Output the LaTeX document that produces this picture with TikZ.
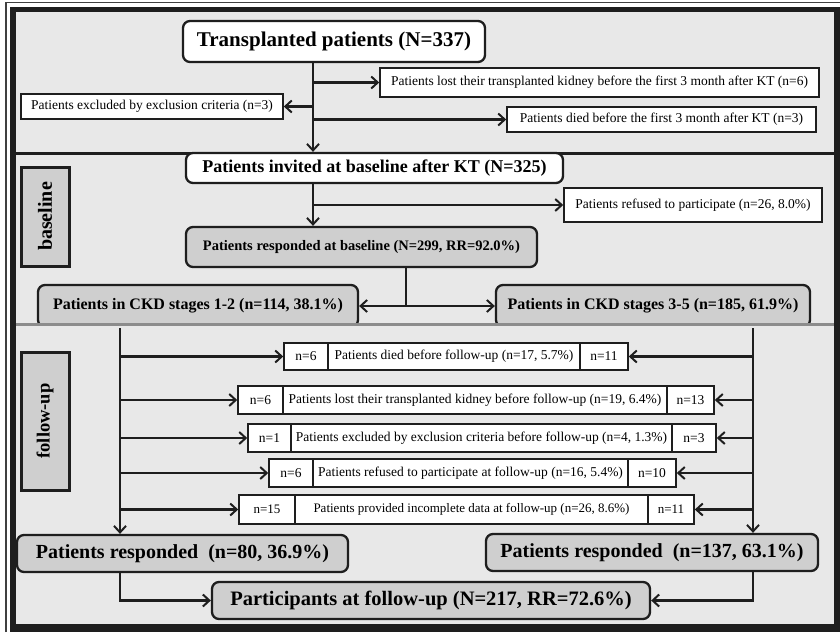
\documentclass[tikz,border=0pt]{standalone}
\usepackage{fontspec}
\setmainfont{Liberation Serif}
\usetikzlibrary{arrows.meta}
\definecolor{bgg}{HTML}{E8E8E8}
\definecolor{boxg}{HTML}{CFCFCF}
\definecolor{frm}{HTML}{1E1E1E}
\definecolor{divg}{HTML}{8C8C8C}
\tikzset{
  arr/.style={line width=2.1pt, draw=frm, -{Straight Barb[length=6.5pt,width=12pt,line width=2pt]}},
  ln/.style={line width=2.1pt, draw=frm},
  bigbox/.style={draw=frm, line width=2.3pt, rounded corners=7pt, inner sep=0pt, align=center},
  whitebox/.style={bigbox, fill=white},
  graybox/.style={bigbox, fill=boxg},
  smallbox/.style={draw=frm, line width=1.6pt, fill=white, inner sep=0pt, align=center, font=\fontsize{13.5}{15}\selectfont},
  rowbox/.style={draw=frm, line width=1.6pt, fill=white, inner sep=0pt, align=center, font=\fontsize{13.5}{15}\selectfont},
  labelbox/.style={draw=frm, line width=3pt, fill=boxg, inner sep=0pt, minimum width=48pt}
}
\begin{document}
\begin{tikzpicture}[x=1pt,y=-1pt]
\useasboundingbox (0,0) rectangle (840,632);
\fill[white] (0,0) rectangle (840,632);
\draw[line width=1.2pt, black!75] (6,632) -- (6,2.5) -- (840,2.5);
\fill[frm] (10,7) rectangle (840,632);
\fill[bgg] (16,12) rectangle (834,624);
\draw[line width=3pt, frm] (16,153) -- (834,153);

\coordinate (c1) at (313,0);
\coordinate (c2) at (406,0);
\coordinate (c3) at (120,0);
\coordinate (c4) at (753,0);

% section 1
\node[whitebox, minimum width=302pt, minimum height=41pt, font=\fontsize{21}{24}\selectfont\bfseries] (title) at (334,41.5) {Transplanted patients (N=337)};
\node[smallbox, minimum width=439pt, minimum height=29pt] (lost) at (599.5,82.5) {Patients lost their transplanted kidney before the first 3 month after KT (n=6)};
\node[smallbox, minimum width=262pt, minimum height=25pt] (excl) at (152,106.5) {Patients excluded by exclusion criteria (n=3)};
\node[smallbox, minimum width=309pt, minimum height=25pt] (died) at (661.5,119.5) {Patients died before the first 3 month after KT (n=3)};

% section 2
\node[whitebox, minimum width=377pt, minimum height=30pt, font=\fontsize{18}{20}\selectfont\bfseries] (invited) at (374.5,168) {Patients invited at baseline after KT (N=325)};
\node[labelbox, minimum height=99pt] (lbase) at (45,216.5) {};
\node[rotate=90, font=\fontsize{20}{22}\selectfont\bfseries] (lbaset) at (lbase.center) {baseline};
\node[smallbox, minimum width=258pt, minimum height=34pt] (refused) at (693,205) {Patients refused to participate (n=26, 8.0\%)};
\node[graybox, minimum width=351pt, minimum height=40pt, font=\fontsize{14.5}{16}\selectfont\bfseries] (respB) at (361.5,247) {Patients responded at baseline (N=299, RR=92.0\%)};
\node[graybox, minimum width=320pt, minimum height=42pt, font=\fontsize{16}{18}\selectfont\bfseries] (ckdA) at (198,306) {Patients in CKD stages 1-2 (n=114, 38.1\%)};
\node[graybox, minimum width=314pt, minimum height=42pt, font=\fontsize{16}{18}\selectfont\bfseries] (ckdB) at (653,306) {Patients in CKD stages 3-5 (n=185, 61.9\%)};

\draw[arr] (title.south -| c1) -- (invited.north -| c1);
\draw[arr] (lost.west -| c1) -- (lost.west);
\draw[arr] (excl.east -| c1) -- (excl.east);
\draw[arr] (died.west -| c1) -- (died.west);

\draw[arr] (invited.south -| c1) -- (respB.north -| c1);
\draw[arr] (refused.west -| c1) -- (refused.west);
\draw[ln] (respB.south -| c2) -- (ckdA.east -| c2);
\draw[arr] (ckdA.east -| c2) -- (ckdA.east);
\draw[arr] (ckdB.west -| c2) -- (ckdB.west);

\fill[bgg] (16,325.5) rectangle (834,332);
\draw[line width=2.5pt, divg] (16,324.5) -- (834,324.5);

% follow-up
\node[labelbox, minimum height=138pt] (lfu) at (45,421) {};
\node[rotate=90, font=\fontsize{18.5}{20}\selectfont\bfseries] (lfut) at (lfu.center) {follow-up};

% row 1
\node[rowbox, minimum width=44pt, minimum height=27pt] (r1L) at (306,356.5) {n=6};
\node[rowbox, minimum width=252pt, minimum height=27pt] (r1M) at (454,356.5) {Patients died before follow-up (n=17, 5.7\%)};
\node[rowbox, minimum width=48pt, minimum height=27pt] (r1R) at (604,356.5) {n=11};
% row 2
\node[rowbox, minimum width=45pt, minimum height=28pt] (r2L) at (260.5,400) {n=6};
\node[rowbox, minimum width=384pt, minimum height=28pt] (r2M) at (475,400) {Patients lost their transplanted kidney before follow-up (n=19, 6.4\%)};
\node[rowbox, minimum width=47pt, minimum height=28pt] (r2R) at (690.5,400) {n=13};
% row 3
\node[rowbox, minimum width=43pt, minimum height=28pt] (r3L) at (269.5,438) {n=1};
\node[rowbox, minimum width=381pt, minimum height=28pt] (r3M) at (481.5,438) {Patients excluded by exclusion criteria before follow-up (n=4, 1.3\%)};
\node[rowbox, minimum width=44pt, minimum height=28pt] (r3R) at (694,438) {n=3};
% row 4
\node[rowbox, minimum width=44pt, minimum height=28pt] (r4L) at (291,473) {n=6};
\node[rowbox, minimum width=315pt, minimum height=28pt] (r4M) at (470.5,473) {Patients refused to participate at follow-up (n=16, 5.4\%)};
\node[rowbox, minimum width=48pt, minimum height=28pt] (r4R) at (652,473) {n=10};
% row 5
\node[rowbox, minimum width=56pt, minimum height=29pt, font=\fontsize{13}{15}\selectfont] (r5L) at (267,509.5) {n=15};
\node[rowbox, minimum width=353pt, minimum height=29pt, font=\fontsize{13}{15}\selectfont] (r5M) at (471.5,509.5) {Patients provided incomplete data at follow-up (n=26, 8.6\%)};
\node[rowbox, minimum width=46pt, minimum height=29pt, font=\fontsize{13}{15}\selectfont] (r5R) at (671,509.5) {n=11};

\node[graybox, minimum width=331pt, minimum height=37pt, font=\fontsize{20}{22}\selectfont\bfseries] (respL) at (182.5,553.5) {Patients responded\ \ (n=80, 36.9\%)};
\node[graybox, minimum width=332pt, minimum height=37pt, font=\fontsize{20}{22}\selectfont\bfseries] (respR) at (652,552.5) {Patients responded\ \ (n=137, 63.1\%)};
\node[graybox, minimum width=438pt, minimum height=37pt, font=\fontsize{20.5}{22}\selectfont\bfseries] (part) at (431,600.5) {Participants at follow-up (N=217, RR=72.6\%)};

\draw[arr] (ckdA.south -| c3) -- (respL.north -| c3);
\draw[arr] (ckdB.south -| c4) -- (respR.north -| c4);
\foreach \r in {r1,r2,r3,r4,r5}{
  \draw[arr] (\r L.west -| c3) -- (\r L.west);
  \draw[arr] (\r R.east -| c4) -- (\r R.east);
}
\draw[arr] (respL.south -| c3) |- (part.west);
\draw[arr] (respR.south -| c4) |- (part.east);
\end{tikzpicture}
\end{document}
